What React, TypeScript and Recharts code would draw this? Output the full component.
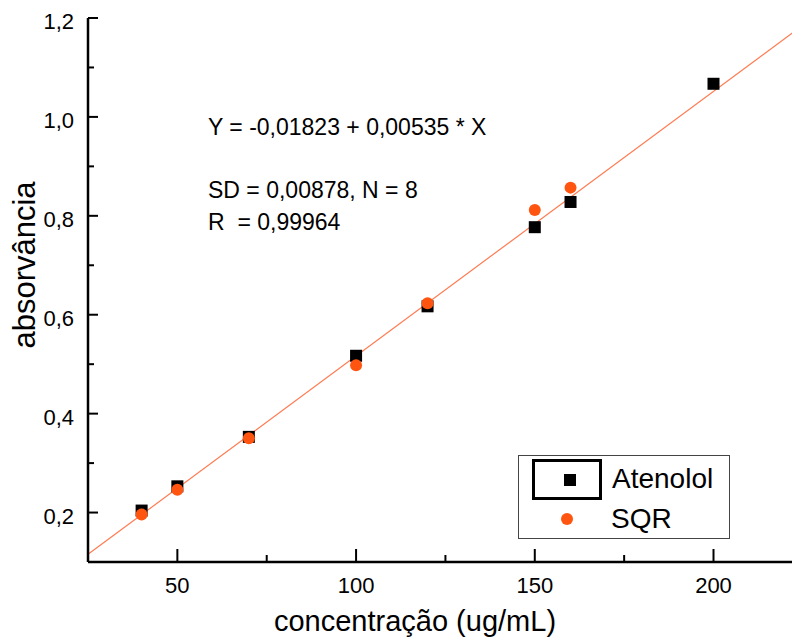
import { ComposedChart, ReferenceLine, Scatter, XAxis, YAxis } from 'recharts'

// Calibration data
const concentrations = [40, 50, 70, 100, 120, 150, 160, 200]
const atenololAbs = [0.204, 0.253, 0.353, 0.517, 0.617, 0.777, 0.828, 1.067]
const sqrConcentrations = [40, 50, 70, 100, 120, 150, 160]
const sqrAbs = [0.196, 0.246, 0.35, 0.498, 0.623, 0.812, 0.857]

// Fitted line end points (Y = -0,01823 + 0,00535 * X) at the edges of the frame
const fitLine = [
  { x: 25, y: 0.1155 },
  { x: 224.2, y: 1.1812 },
]

const xMajorTicks = [50, 100, 150, 200]
const xMinorTicks = [75, 125, 175]
const yMajorTicks = [0.2, 0.4, 0.6, 0.8, 1.0, 1.2]
const yMinorTicks = [0.3, 0.5, 0.7, 0.9, 1.1]

const fitText = ['Y = -0,01823 + 0,00535 * X', 'SD = 0,00878, N = 8', 'R\u00a0 = 0,99964']

const FONT = '"Liberation Sans", Arial, Helvetica, sans-serif'
const ORANGE = '#ff5511'
const LINE_ORANGE = '#ff7b52'

const atenololData = concentrations.map((x, i) => ({ x, y: atenololAbs[i] }))
const sqrData = sqrConcentrations.map((x, i) => ({ x, y: sqrAbs[i] }))

const isMajor = (v: number, majors: number[]) => majors.some((m) => Math.abs(m - v) < 1e-6)
const fmt = (v: number) => v.toFixed(1).replace('.', ',')

function BottomTick(props: any) {
  const { x, y, payload } = props
  const major = isMajor(payload.value, xMajorTicks)
  return (
    <g>
      <line x1={x} x2={x} y1={y} y2={y - (major ? 13 : 7)} stroke="#000" strokeWidth={2} />
      {major ? (
        <text x={x} y={y + 31} textAnchor="middle" fontSize={22} fontFamily={FONT} fill="#000">
          {payload.value}
        </text>
      ) : null}
    </g>
  )
}

function TopTick(props: any) {
  const { x, y, payload } = props
  const major = isMajor(payload.value, xMajorTicks)
  return <line x1={x} x2={x} y1={y} y2={y + (major ? 11 : 6)} stroke="#000" strokeWidth={2} />
}

function LeftTick(props: any) {
  const { x, y, payload } = props
  const major = isMajor(payload.value, yMajorTicks)
  return (
    <g>
      <line x1={x} x2={x + (major ? 10 : 6)} y1={y} y2={y} stroke="#000" strokeWidth={2} />
      {major ? (
        <text x={x - 14} y={y + 11} textAnchor="end" fontSize={22} fontFamily={FONT} fill="#000">
          {fmt(payload.value)}
        </text>
      ) : null}
    </g>
  )
}

function RightTick(props: any) {
  const { x, y, payload } = props
  const major = isMajor(payload.value, yMajorTicks)
  return <line x1={x} x2={x - (major ? 10 : 6)} y1={y} y2={y} stroke="#000" strokeWidth={2} />
}

const SquareDot = (props: any) => {
  const { cx, cy } = props
  if (cx == null || cy == null) return <g />
  return <rect x={cx - 6} y={cy - 6} width={12} height={12} fill="#000" />
}

const RoundDot = (props: any) => {
  const { cx, cy } = props
  if (cx == null || cy == null) return <g />
  return <circle cx={cx} cy={cy} r={6} fill={ORANGE} />
}

export default function App() {
  const xTicks = [...xMajorTicks, ...xMinorTicks].sort((a, b) => a - b)
  const yTicks = [...yMajorTicks, ...yMinorTicks].sort((a, b) => a - b)

  return (
    <div
      style={{
        position: 'absolute',
        left: 0,
        top: 0,
        width: 792,
        height: 639,
        overflow: 'hidden',
        background: '#fff',
        fontFamily: FONT,
      }}
    >
      <ComposedChart width={800} height={639} margin={{ top: 18, right: 0, bottom: 0, left: 0 }}>
        <XAxis
          xAxisId="bottom"
          dataKey="x"
          type="number"
          domain={[25, 224.2]}
          ticks={xTicks}
          interval={0}
          height={77}
          tickSize={0}
          tickMargin={0}
          tickLine={false}
          axisLine={{ stroke: '#000', strokeWidth: 2.5 }}
          tick={BottomTick}
          allowDataOverflow
        />
        <XAxis
          xAxisId="top"
          orientation="top"
          dataKey="x"
          type="number"
          domain={[25, 224.2]}
          ticks={xTicks}
          interval={0}
          height={0}
          tickSize={0}
          tickMargin={0}
          tickLine={false}
          axisLine={{ stroke: '#000', strokeWidth: 2.5 }}
          tick={TopTick}
          allowDataOverflow
        />
        <YAxis
          yAxisId="left"
          type="number"
          domain={[0.1, 1.2]}
          ticks={yTicks}
          interval={0}
          width={88}
          tickSize={0}
          tickMargin={0}
          tickLine={false}
          axisLine={{ stroke: '#000', strokeWidth: 2.5 }}
          tick={LeftTick}
          allowDataOverflow
        />
        <YAxis
          yAxisId="right"
          orientation="right"
          type="number"
          domain={[0.1, 1.2]}
          ticks={yTicks}
          interval={0}
          width={0}
          tickSize={0}
          tickMargin={0}
          tickLine={false}
          axisLine={{ stroke: '#000', strokeWidth: 2.5 }}
          tick={RightTick}
          allowDataOverflow
        />
        <Scatter
          name="Atenolol"
          data={atenololData}
          dataKey="y"
          xAxisId="bottom"
          yAxisId="left"
          shape={SquareDot}
          isAnimationActive={false}
        />
        <Scatter
          name="SQR"
          data={sqrData}
          dataKey="y"
          xAxisId="bottom"
          yAxisId="left"
          shape={RoundDot}
          isAnimationActive={false}
        />
        <ReferenceLine
          xAxisId="bottom"
          yAxisId="left"
          segment={fitLine}
          stroke={LINE_ORANGE}
          strokeWidth={1.2}
          ifOverflow="visible"
        />
      </ComposedChart>

      <svg
        width={792}
        height={639}
        style={{ position: 'absolute', left: 0, top: 0, pointerEvents: 'none' }}
      >
        <g fontFamily={FONT} fill="#000">
          <text x={208} y={135} fontSize={23}>{fitText[0]}</text>
          <text x={208} y={198} fontSize={23}>{fitText[1]}</text>
          <text x={208} y={230} fontSize={23}>{fitText[2]}</text>

          <text x={415} y={631} fontSize={29} textAnchor="middle">
            concentração (ug/mL)
          </text>
          <text x={35} y={265} fontSize={31} textAnchor="middle" transform="rotate(-90 35 265)">
            absorvância
          </text>
        </g>

        {/* legend */}
        <g>
          <rect x={518.5} y={455.5} width={211} height={83} fill="#fff" stroke="#444" strokeWidth={1} />
          <rect x={533.5} y={460.5} width={67} height={38} fill="none" stroke="#000" strokeWidth={3} />
          <rect x={564} y={474} width={12} height={12} fill="#000" />
          <text x={612} y={488} fontSize={28} fontFamily={FONT} fill="#000">
            Atenolol
          </text>
          <circle cx={567} cy={519} r={6} fill={ORANGE} />
          <text x={611} y={528} fontSize={28} fontFamily={FONT} fill="#000">
            SQR
          </text>
        </g>
      </svg>
    </div>
  )
}
